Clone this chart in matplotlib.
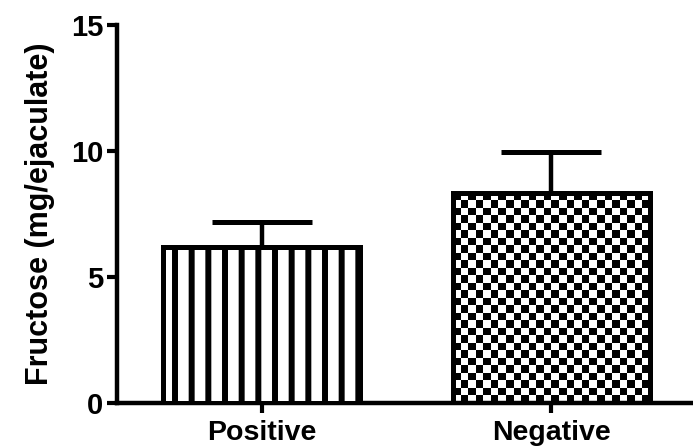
import matplotlib
matplotlib.use("Agg")
import matplotlib.pyplot as plt
import numpy as np

# data
groups = ["Positive", "Negative"]
means = [6.19, 8.33]
sems = [0.99, 1.63]
yticks = [0, 5, 10, 15]

plt.rcParams["font.family"] = ["Liberation Sans", "DejaVu Sans"]
plt.rcParams["font.weight"] = "bold"
plt.rcParams["hatch.linewidth"] = 4.3

fig = plt.figure(figsize=(6.93, 4.47), dpi=100)
ax = fig.add_axes([117 / 693, 44 / 447, 1 - 117 / 693, 378 / 447])

x = np.arange(len(groups))
bars = ax.bar(x, means, width=0.68, facecolor="none", edgecolor="black",
              linewidth=3.6, zorder=3)
bars[0].set_facecolor("white")
bars[0].set_hatch("|")

# checkerboard fill for the second bar, clipped to the bar outline
b = bars[1]
ncol, nrow = 26, 28
checker = (np.add.outer(np.arange(nrow), np.arange(ncol)) % 2).astype(float)
im = ax.imshow(checker, cmap="gray", interpolation="nearest", aspect="auto",
               extent=(b.get_x(), b.get_x() + b.get_width(), 0, b.get_height()),
               zorder=2)
im.set_clip_path(b)

ax.errorbar(x, means, yerr=[np.zeros(len(sems)), sems], fmt="none",
            ecolor="black", elinewidth=3.2, capsize=36, capthick=3.6, zorder=4)

ax.set_xlim(-0.5, 1.49)
ax.set_ylim(0, 15)
ax.set_yticks(yticks)
ax.set_xticks(x)
ax.set_xticklabels(groups)
ax.set_ylabel("Fructose (mg/ejaculate)", fontsize=22, fontweight="bold",
              labelpad=11)

for s in ("top", "right"):
    ax.spines[s].set_visible(False)
for s in ("left", "bottom"):
    ax.spines[s].set_linewidth(3.2)
ax.tick_params(axis="y", length=7, width=3, labelsize=21, pad=3)
ax.tick_params(axis="x", length=7, width=3, labelsize=20.5, pad=5)

fig.savefig("out.png", dpi=100)
